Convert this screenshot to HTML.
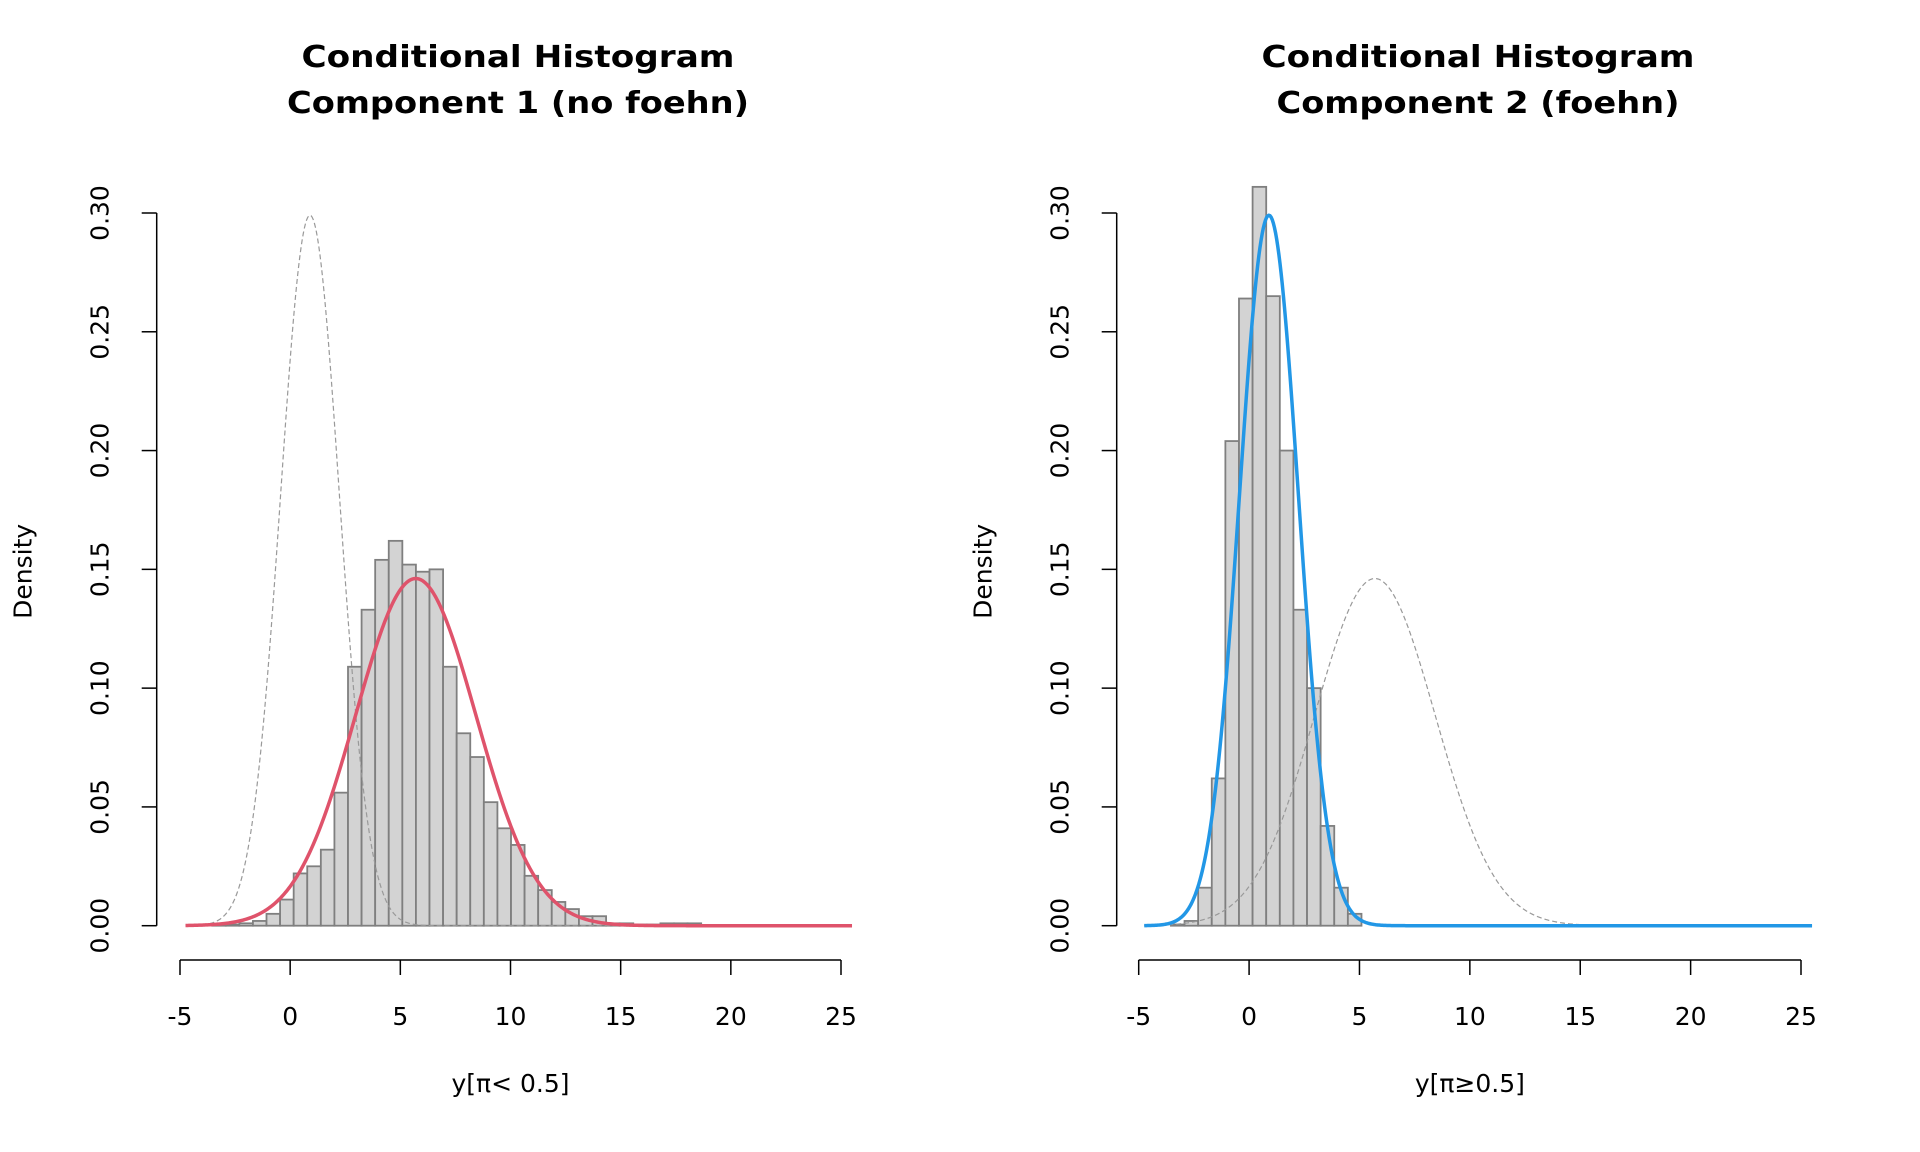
<!DOCTYPE html>
<html><head><meta charset="utf-8"><style>
html,body{margin:0;padding:0;background:#fff;}
svg{display:block;font-family:"DejaVu Sans","Liberation Sans",sans-serif;}
</style></head><body>
<svg id="chart" width="1920" height="1152" viewBox="0 0 1920 1152" xmlns="http://www.w3.org/2000/svg"></svg>
<script>
const yTicks = [0, 0.05, 0.10, 0.15, 0.20, 0.25, 0.30];
const yTickLabels = ["0.00","0.05","0.10","0.15","0.20","0.25","0.30"];
const xTicks = [-5, 0, 5, 10, 15, 20, 25];
const xTickLabels = ["-5","0","5","10","15","20","25"];
const binStart = -3.54;
const binWidth = 0.6165;
const leftDensity = [0.0003,0.0005,0.001,0.002,0.005,0.011,0.022,0.025,0.032,0.056,0.109,0.133,0.154,0.162,0.152,0.149,0.150,0.109,0.081,0.071,0.052,0.041,0.034,0.021,0.015,0.010,0.007,0.004,0.004,0.001,0.001,0.0005,0.0005,0.001,0.001,0.001];
const rightDensity = [0.0005,0.002,0.016,0.062,0.204,0.264,0.311,0.265,0.200,0.133,0.100,0.042,0.016,0.005];
const compMeans = [5.7, 0.9];
const compSds = [2.73, 1.334];
const curveRange = [-4.75, 25.5];
const titles1 = ["Conditional Histogram","Component 1 (no foehn)"];
const titles2 = ["Conditional Histogram","Component 2 (foehn)"];

const NS = "http://www.w3.org/2000/svg";
const svg = document.getElementById('chart');
function mk(tag, attrs, parent){
  const e = document.createElementNS(NS, tag);
  for (const k in attrs) e.setAttribute(k, attrs[k]);
  (parent||svg).appendChild(e);
  return e;
}
function dnorm(x,m,s){return Math.exp(-0.5*((x-m)/s)**2)/(s*Math.sqrt(2*Math.PI));}

function panel(p){
  const g = mk('g',{});
  
  
  const xs = v => p.x0 + (v - (-5)) * (p.x1 - p.x0) / 30;
  const ys = v => p.y0 - v * (p.y0 - p.y3) / 0.30;
  p.titles.forEach((t,i)=>{
    const tt = mk('text',{x:p.tx, y:[67,113][i], 'text-anchor':'middle','font-size':'30','font-weight':'bold',fill:'#000',textLength:p.tl[i],lengthAdjust:'spacingAndGlyphs'},g);
    tt.textContent = t;
    
    
  });
  const bars = mk('g',{},g);
  
  
  p.dens.forEach((d,i)=>{
    const a = binStart + i*binWidth, b = a + binWidth;
    const r = mk('rect',{x:xs(a), y:ys(d), width:xs(b)-xs(a), height:ys(0)-ys(d), fill:'#d3d3d3', stroke:'#7f7f7f','stroke-width':'1.8'},bars);
    
    
  });
  function curve(m,s,style,name){
    let d='';
    for(let i=0;i<=600;i++){
      const x = curveRange[0] + (curveRange[1]-curveRange[0])*i/600;
      d += (i?'L':'M') + xs(x).toFixed(2)+','+ys(dnorm(x,m,s)).toFixed(2);
    }
    const pa = mk('path',Object.assign({d:d,fill:'none'},style),g);
    
    
  }
  curve(compMeans[p.other], compSds[p.other], {stroke:'#999','stroke-width':'1.2','stroke-dasharray':'5,3'}, 'other-component-density');
  curve(compMeans[p.comp], compSds[p.comp], {stroke:p.color,'stroke-width':'3.5'}, 'component-density');
  const ya = mk('g',{},g);
  
  
  mk('line',{x1:p.ax, x2:p.ax, y1:ys(0), y2:ys(0.30), stroke:'#000','stroke-width':'1.5'},ya);
  yTicks.forEach((v,i)=>{
    mk('line',{x1:p.ax-15, x2:p.ax, y1:ys(v), y2:ys(v), stroke:'#000','stroke-width':'1.5'},ya);
    const t = mk('text',{x:0,y:0,'font-size':'25','text-anchor':'middle',transform:`translate(${p.ax-55},${ys(v)}) rotate(-90)`,'dominant-baseline':'middle'},ya);
    t.textContent = yTickLabels[i];
    
    
  });
  const yl = mk('text',{x:0,y:0,'font-size':'25','text-anchor':'middle',transform:`translate(${p.ax-132},${(ys(0)+ys(0.30))/2+2}) rotate(-90)`,'dominant-baseline':'middle'},g);
  yl.textContent = 'Density';
  
  
  const xa = mk('g',{},g);
  
  
  mk('line',{x1:xs(-5), x2:xs(25), y1:p.xay, y2:p.xay, stroke:'#000','stroke-width':'1.5'},xa);
  xTicks.forEach((v,i)=>{
    mk('line',{x1:xs(v), x2:xs(v), y1:p.xay, y2:p.xay+15, stroke:'#000','stroke-width':'1.5'},xa);
    const t = mk('text',{x:xs(v), y:p.xay+65,'font-size':'25','text-anchor':'middle'},xa);
    t.textContent = xTickLabels[i];
    
    
  });
  const xl = mk('text',{x:(xs(-5)+xs(25))/2, y:1092,'font-size':'25','text-anchor':'middle'},g);
  xl.textContent = p.xlabel;
  
  
}

panel({name:'panel-component-1', x0:180, x1:841, y0:925.7, y3:213, ax:156.7, xay:960, dens:leftDensity, comp:0, other:1, color:'#df536b', titles:titles1, tx:518, tl:[433,462], xlabel:'y[\u03c0< 0.5]'});
panel({name:'panel-component-2', x0:1138.7, x1:1801, y0:925.7, y3:213, ax:1116.7, xay:960, dens:rightDensity, comp:1, other:0, color:'#2297e6', titles:titles2, tx:1478, tl:[433,403], xlabel:'y[\u03c0\u22650.5]'});
</script>
</body></html>
